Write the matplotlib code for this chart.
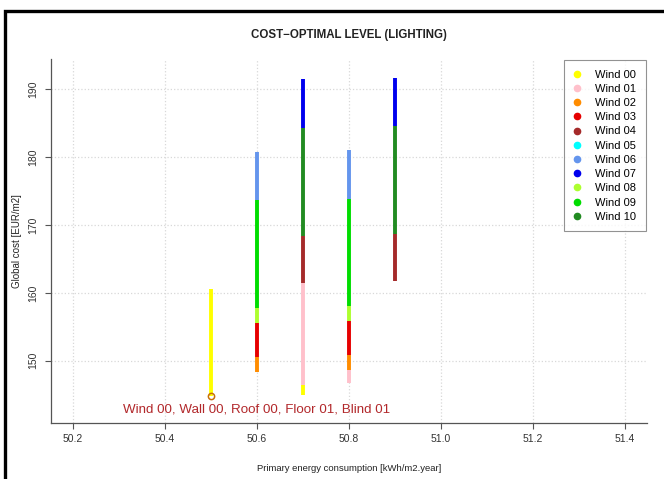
import matplotlib
matplotlib.use("Agg")
import matplotlib.pyplot as plt
from matplotlib.lines import Line2D
from matplotlib.patches import Rectangle

plt.rcParams['font.family'] = ['Liberation Sans', 'DejaVu Sans']

# legend entries and colours (R style colour names)
winds = ['Wind 00', 'Wind 01', 'Wind 02', 'Wind 03', 'Wind 04', 'Wind 05',
         'Wind 06', 'Wind 07', 'Wind 08', 'Wind 09', 'Wind 10']
wind_colors = ['#ffff00', '#ffc0cb', '#ff8c00', '#e60000', '#a52a2a', '#00ffff',
               '#6495ed', '#0000ee', '#adff2f', '#00dd00', '#228b22']

# vertical runs of solutions: energy, wind index, cost from, cost to
seg_x = [50.5,
         50.6, 50.6, 50.6, 50.6, 50.6,
         50.7, 50.7, 50.7, 50.7, 50.7,
         50.8, 50.8, 50.8, 50.8, 50.8, 50.8,
         50.9, 50.9, 50.9]
seg_wind = [0,
            2, 3, 8, 9, 6,
            0, 1, 4, 10, 7,
            1, 2, 3, 8, 9, 6,
            4, 10, 7]
seg_low = [144.85,
           148.4, 150.6, 155.6, 157.8, 173.6,
           145.0, 146.5, 161.5, 168.4, 184.3,
           146.8, 148.7, 150.9, 155.8, 158.0, 173.8,
           161.8, 168.7, 184.5]
seg_high = [160.5,
            150.6, 155.6, 157.8, 173.6, 180.7,
            146.5, 161.5, 168.4, 184.3, 191.4,
            148.7, 150.9, 155.8, 158.0, 173.8, 181.0,
            168.7, 184.5, 191.6]

# cost-optimal solution
opt_x = 50.5
opt_y = 144.85
opt_label = 'Wind 00, Wall 00, Roof 00, Floor 01, Blind 01'

xticks = [50.2, 50.4, 50.6, 50.8, 51.0, 51.2, 51.4]
yticks = [150, 160, 170, 180, 190]

fig = plt.figure(figsize=(6.64, 4.79), dpi=100)
ax = fig.add_axes([51 / 664, 1 - 423 / 479, 596 / 664, 364 / 479])

# outer frame of the screenshot
fig.patches.append(Rectangle((5 / 664, -0.05), 1.1, 1.05 - 10.5 / 479,
                             transform=fig.transFigure, fill=False,
                             edgecolor='black', linewidth=2.4, clip_on=False))

ax.vlines(seg_x, seg_low, seg_high,
          colors=[wind_colors[w] for w in seg_wind], linewidth=2.8, zorder=3)
ax.plot(opt_x, opt_y, 'o', markersize=4.5, markerfacecolor='none',
        markeredgecolor='#c8700a', markeredgewidth=1.1, zorder=4)
ax.text(opt_x + 0.1, opt_y - 2.0, opt_label, color='#b2282b',
        fontsize=9.6, ha='center', va='center')

ax.set_xlim(50.152, 51.448)
ax.set_ylim(140.85, 194.4)
ax.set_xticks(xticks)
ax.set_yticks(yticks)
ax.set_xticklabels(['%.1f' % v for v in xticks])
ax.grid(True, color='#d8d8d8', linestyle=':', linewidth=0.9)
ax.set_axisbelow(True)

for s in ['top', 'right']:
    ax.spines[s].set_visible(False)
for s in ['left', 'bottom']:
    ax.spines[s].set_color('#555555')
    ax.spines[s].set_linewidth(0.9)

ax.tick_params(axis='both', direction='out', length=4, width=0.8,
               color='#555555', labelsize=7.5, labelcolor='#333333')
ax.tick_params(axis='x', pad=4)
ax.tick_params(axis='y', pad=5)
plt.setp(ax.get_yticklabels(), rotation=90, va='center')

ax.set_title('COST\u2212OPTIMAL LEVEL (LIGHTING)', fontsize=8.3,
             fontweight='bold', color='#222222', pad=15)
ax.set_xlabel('Primary energy consumption [kWh/m2.year]', fontsize=6.8,
              color='#222222', labelpad=14)
ax.set_ylabel('Global cost [EUR/m2]', fontsize=7, color='#222222',
              labelpad=5)

handles = [Line2D([], [], linestyle='none', marker='o', markersize=4.5,
                  markerfacecolor=c, markeredgecolor=c) for c in wind_colors]
leg = ax.legend(handles, winds, loc='upper right', fontsize=8,
                frameon=True, fancybox=False, borderaxespad=0.1,
                handlelength=0.5, handletextpad=1.45, labelspacing=0.38,
                borderpad=0.85)
leg.get_frame().set_edgecolor('#777777')
leg.get_frame().set_linewidth(0.8)

fig.savefig('out.png', dpi=100)
